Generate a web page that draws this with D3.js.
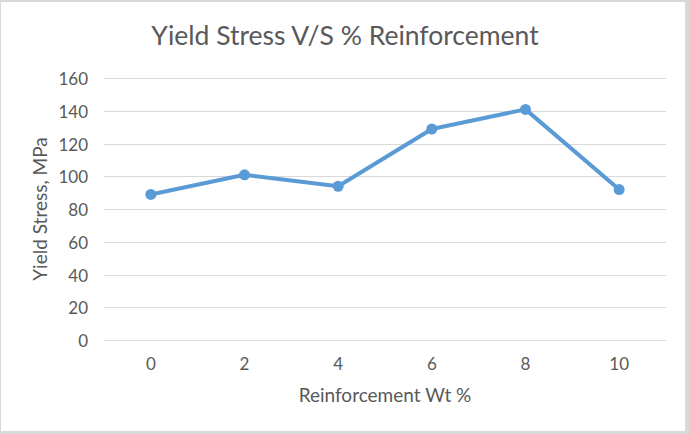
<!DOCTYPE html>
<html><head><meta charset="utf-8">
<script src="https://cdn.jsdelivr.net/npm/d3@7"></script>
<style>body{margin:0;background:#fff}svg{display:block}</style>
</head><body>
<script>
const categories = ["0","2","4","6","8","10"];
const yieldStress = [89, 101, 94, 129, 141, 92];
const yTicks = [0,20,40,60,80,100,120,140,160];

const W = 689, H = 434;
const svg = d3.select("body").append("svg").attr("width", W).attr("height", H);
svg.append("rect").attr("width", W).attr("height", H).attr("fill", "#d9d9d9");
svg.append("rect").attr("x", 1).attr("y", 2).attr("width", 684).attr("height", 429).attr("fill", "#fff");

const font = "Lato, 'Open Sans', sans-serif";
const x = d3.scaleBand().domain(categories).range([104, 666]);
const y = d3.scaleLinear().domain([0, 160]).range([340, 78.3]);

const grid = svg.append("g");
grid.selectAll("line").data(yTicks).join("line")
  .attr("x1", 104).attr("x2", 666)
  .attr("y1", d => Math.round(y(d)) + 0.5).attr("y2", d => Math.round(y(d)) + 0.5)
  .attr("stroke", "#d9d9d9").attr("stroke-width", 1);

const yAxis = d3.axisLeft(y).tickValues(yTicks).tickSize(0).tickPadding(0);
const gy = svg.append("g").attr("transform", "translate(88,1)").call(yAxis);
gy.select(".domain").remove();
gy.selectAll("text").attr("font-family", font).attr("font-size", 17).attr("fill", "#595959");

const xAxis = d3.axisBottom(x).tickSize(0).tickPadding(0);
const gx = svg.append("g").attr("transform", "translate(0,358)").call(xAxis);
gx.select(".domain").remove();
gx.selectAll("text").attr("font-family", font).attr("font-size", 17).attr("fill", "#595959").attr("dy", "0.71em");

const line = d3.line().x((d, i) => x(categories[i]) + x.bandwidth() / 2).y(d => y(d));
svg.append("path").datum(yieldStress).attr("d", line)
  .attr("fill", "none").attr("stroke", "#5b9bd5").attr("stroke-width", 4).attr("stroke-linejoin", "round");
svg.append("g").selectAll("circle").data(yieldStress).join("circle")
  .attr("cx", (d, i) => x(categories[i]) + x.bandwidth() / 2).attr("cy", d => y(d))
  .attr("r", 5.5).attr("fill", "#5b9bd5");

svg.append("text").attr("x", 345).attr("y", 45).attr("text-anchor", "middle")
  .attr("font-family", font).attr("font-size", 26.5).attr("fill", "#595959")
  .text("Yield Stress V/S % Reinforcement");
svg.append("text").attr("x", 385).attr("y", 402).attr("text-anchor", "middle")
  .attr("font-family", font).attr("font-size", 19).attr("fill", "#595959")
  .text("Reinforcement Wt %");
svg.append("text").attr("transform", "translate(47,209) rotate(-90)").attr("text-anchor", "middle")
  .attr("font-family", font).attr("font-size", 19).attr("fill", "#595959")
  .text("Yield Stress, MPa");
</script>
</body></html>
